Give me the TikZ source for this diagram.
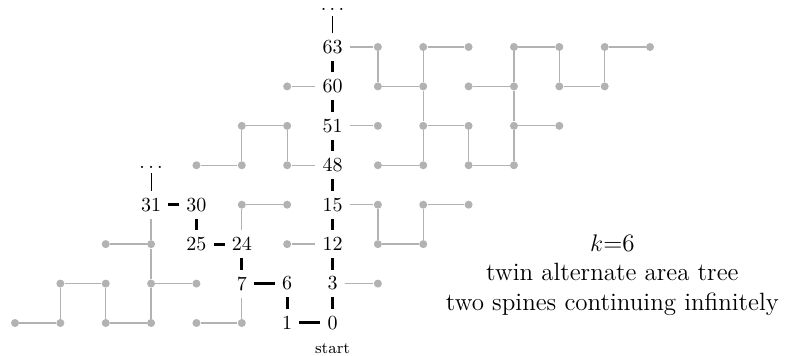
\documentclass[tikz,border=0pt]{standalone}
\begin{document}
\begin{tikzpicture}[x=22.68pt,y=19.715pt,
  lab/.style={inner sep=0.333em},
  gdot/.style={circle,fill=black!30,inner sep=0pt,minimum size=4pt},
  spine/.style={line width=1.5pt},
  gedge/.style={black!30,line width=0.65pt},
  more/.style={inner xsep=2pt,inner ysep=0pt},
  toMore/.style={shorten >=2.2pt}]
\useasboundingbox (-7.5pt,-16.5pt) rectangle (386.5pt,161.5pt);
% grey dots
\foreach \c/\r in {0/0,1/0,2/0,3/0,4/0,5/0,
  1/1,2/1,3/1,4/1,8/1,
  2/2,3/2,6/2,8/2,9/2,
  5/3,6/3,8/3,9/3,10/3,
  4/4,5/4,6/4,8/4,9/4,10/4,11/4,
  5/5,6/5,8/5,9/5,10/5,11/5,12/5,
  6/6,8/6,9/6,10/6,11/6,12/6,13/6,
  8/7,9/7,10/7,11/7,12/7,13/7,14/7}
  \node[gdot] (g\c-\r) at (\c,\r) {};
% labelled nodes
\node[lab] (n0) at (7,0) {0};
\node[lab] (n1) at (6,0) {1};
\node[lab] (n6) at (6,1) {6};
\node[lab] (n7) at (5,1) {7};
\node[lab] (n24) at (5,2) {24};
\node[lab] (n25) at (4,2) {25};
\node[lab] (n30) at (4,3) {30};
\node[lab] (n31) at (3,3) {31};
\node[lab] (n3) at (7,1) {3};
\node[lab] (n12) at (7,2) {12};
\node[lab] (n15) at (7,3) {15};
\node[lab] (n48) at (7,4) {48};
\node[lab] (n51) at (7,5) {51};
\node[lab] (n60) at (7,6) {60};
\node[lab] (n63) at (7,7) {63};
\node[more] (dtop) at (7,7.94) {$\ldots$};
\node[more] (dleft) at (3,3.94) {$\ldots$};
\node[font=\footnotesize,anchor=north] (start) at (n0.south) {start};
\node[align=center,font=\fontsize{12.5}{14.8}\selectfont] (txt) at (13.17,1.22)
  {$k$=6\\twin alternate area tree\\two spines continuing infinitely};
% grey edges
\foreach \a/\b in {g0-0/g1-0,g2-0/g3-0,g4-0/g5-0,
  g1-1/g2-1,g3-1/g4-1,n3/g8-1,
  g2-2/g3-2,g6-2/n12,g8-2/g9-2,
  g5-3/g6-3,n15/g8-3,g9-3/g10-3,
  g4-4/g5-4,g6-4/n48,g8-4/g9-4,g10-4/g11-4,
  g5-5/g6-5,n51/g8-5,g9-5/g10-5,g11-5/g12-5,
  g6-6/n60,g8-6/g9-6,g10-6/g11-6,g12-6/g13-6,
  n63/g8-7,g9-7/g10-7,g11-7/g12-7,g13-7/g14-7,
  g1-0/g1-1,g2-0/g2-1,g3-0/g3-1,g3-1/g3-2,g3-2/n31,
  g5-0/n7,n24/g5-3,g5-4/g5-5,g6-4/g6-5,
  g8-2/g8-3,g9-2/g9-3,g9-4/g9-5,g10-4/g10-5,g11-4/g11-5,
  g9-5/g9-6,g11-5/g11-6,
  g8-6/g8-7,g9-6/g9-7,g11-6/g11-7,g12-6/g12-7,g13-6/g13-7}
  \draw[gedge] (\a) -- (\b);
% spines
\foreach \a/\b in {n0/n1,n1/n6,n6/n7,n7/n24,n24/n25,n25/n30,n30/n31,
  n0/n3,n3/n12,n12/n15,n15/n48,n48/n51,n51/n60,n60/n63}
  \draw[spine] (\a) -- (\b);
\draw[toMore] (n63) -- (dtop);
\draw[toMore] (n31) -- (dleft);
\end{tikzpicture}
\end{document}
